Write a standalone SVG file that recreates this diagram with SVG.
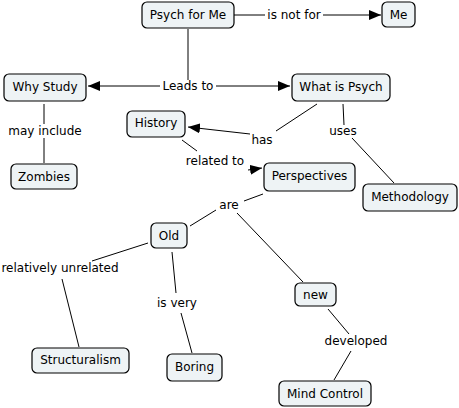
<svg xmlns="http://www.w3.org/2000/svg" width="459" height="408" viewBox="0 0 459 408">
<defs>
<style>
.n rect{fill:#eef3f5;stroke:#000;stroke-width:1.2}
text{font-family:"DejaVu Sans",Verdana,sans-serif;font-size:12px;fill:#000;text-anchor:middle;dominant-baseline:central}
.c line{stroke:#000;stroke-width:1}
</style>
<marker id="a" viewBox="0 0 12 10" refX="12" refY="5" markerWidth="12" markerHeight="10" markerUnits="userSpaceOnUse" orient="auto"><path d="M0,0L12,5L0,10Z" fill="#000"/></marker>
</defs>
<rect width="459" height="408" fill="#fff"/>
<g class="c">
<line x1="234" y1="15" x2="265" y2="15"/>
<line x1="323" y1="15" x2="381" y2="15" marker-end="url(#a)"/>
<line x1="188" y1="29" x2="188" y2="80"/>
<line x1="160" y1="86" x2="88" y2="86" marker-end="url(#a)"/>
<line x1="216" y1="86" x2="290" y2="86" marker-end="url(#a)"/>
<line x1="44" y1="104" x2="44" y2="124"/>
<line x1="44" y1="138" x2="44" y2="163"/>
<line x1="317" y1="104" x2="276" y2="131"/>
<line x1="250" y1="134" x2="188" y2="127" marker-end="url(#a)"/>
<line x1="343" y1="104" x2="344" y2="125"/>
<line x1="352" y1="138" x2="394" y2="183"/>
<line x1="182" y1="140" x2="197" y2="151"/>
<line x1="248" y1="170" x2="262" y2="168" marker-end="url(#a)"/>
<line x1="263" y1="194" x2="244" y2="201"/>
<line x1="216" y1="210" x2="190" y2="226"/>
<line x1="237" y1="213" x2="303" y2="282"/>
<line x1="148" y1="243" x2="92" y2="261"/>
<line x1="62" y1="279" x2="79" y2="347"/>
<line x1="172" y1="252" x2="176" y2="293"/>
<line x1="181" y1="313" x2="192" y2="353"/>
<line x1="328" y1="309" x2="349" y2="334"/>
<line x1="351" y1="351" x2="334" y2="380"/>
<text x="294" y="15">is not for</text>
<text x="188" y="86">Leads to</text>
<text x="45" y="131">may include</text>
<text x="262" y="140">has</text>
<text x="343" y="131">uses</text>
<text x="215" y="161">related to</text>
<text x="229" y="205">are</text>
<text x="60" y="268">relatively unrelated</text>
<text x="177" y="303">is very</text>
<text x="356" y="341">developed</text>
</g>
<g class="n" id="psych"><rect x="142" y="2" width="92" height="26" rx="5"/><text x="188" y="15">Psych for Me</text></g>
<g class="n" id="me"><rect x="382" y="2" width="33" height="25" rx="5"/><text x="398.5" y="15">Me</text></g>
<g class="n" id="why"><rect x="4" y="74" width="82" height="27" rx="5"/><text x="45" y="87">Why Study</text></g>
<g class="n" id="what"><rect x="292" y="74" width="98" height="27" rx="5"/><text x="341" y="87">What is Psych</text></g>
<g class="n" id="history"><rect x="127" y="111" width="58" height="26" rx="5"/><text x="156" y="123">History</text></g>
<g class="n" id="zombies"><rect x="11" y="164" width="66" height="25" rx="5"/><text x="44" y="176.5">Zombies</text></g>
<g class="n" id="persp"><rect x="264" y="163" width="91" height="28" rx="5"/><text x="309.5" y="176">Perspectives</text></g>
<g class="n" id="method"><rect x="363" y="184" width="94" height="27" rx="5"/><text x="410" y="197">Methodology</text></g>
<g class="n" id="old"><rect x="151" y="223" width="36" height="25" rx="5"/><text x="169" y="235.5">Old</text></g>
<g class="n" id="new"><rect x="295" y="283" width="41" height="23" rx="5"/><text x="315.5" y="294.5">new</text></g>
<g class="n" id="struct"><rect x="32" y="348" width="97" height="25" rx="5"/><text x="80.5" y="360">Structuralism</text></g>
<g class="n" id="boring"><rect x="167" y="354" width="55" height="27" rx="5"/><text x="194.5" y="367">Boring</text></g>
<g class="n" id="mind"><rect x="279" y="381" width="92" height="25" rx="5"/><text x="325" y="393.5">Mind Control</text></g>
</svg>
